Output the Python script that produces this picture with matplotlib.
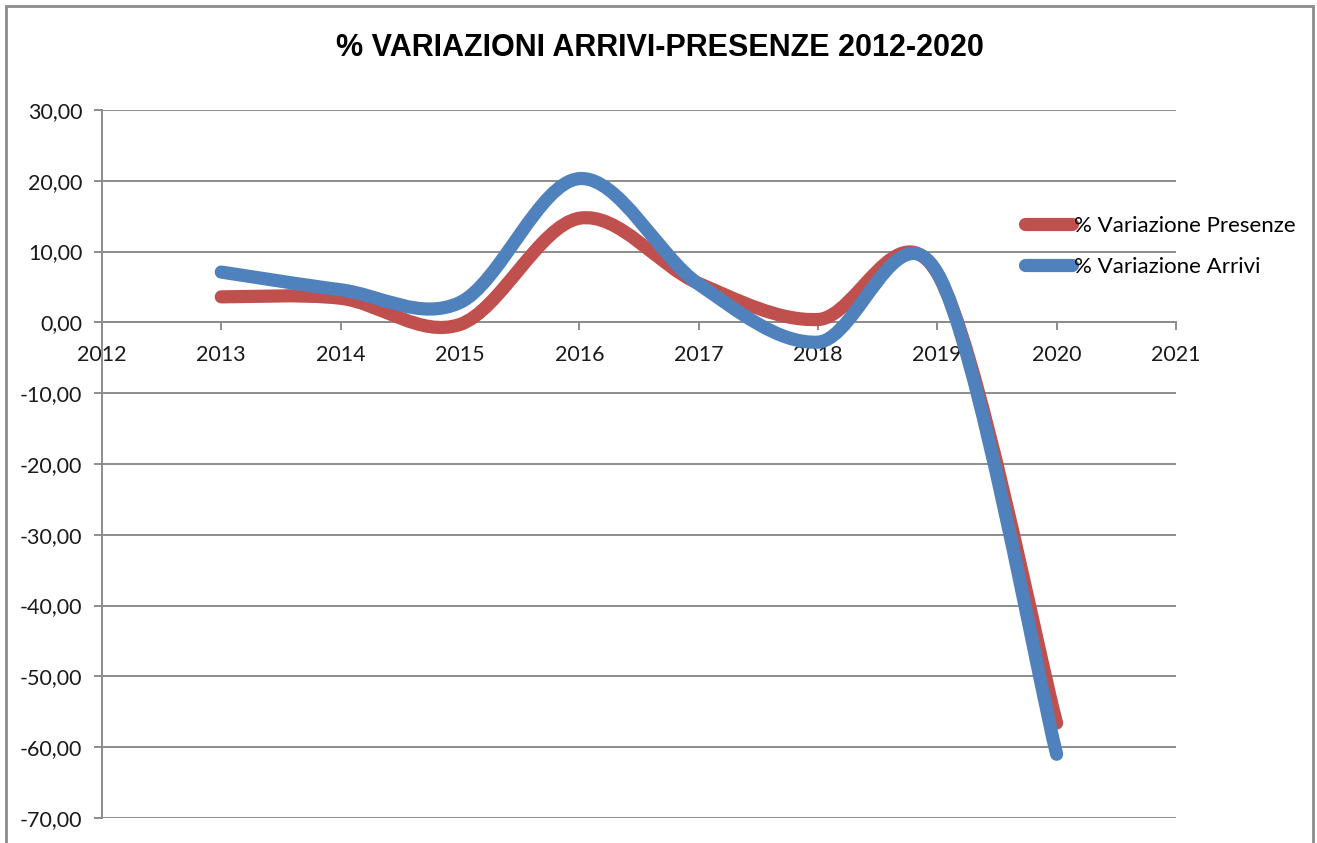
import matplotlib
matplotlib.use('Agg')
import matplotlib.pyplot as plt
from matplotlib.path import Path
from matplotlib.patches import PathPatch, Rectangle
from matplotlib.lines import Line2D
import numpy as np

years = [2013, 2014, 2015, 2016, 2017, 2018, 2019, 2020]
presenze = [3.6, 3.4, -0.3, 14.7, 5.5, 0.4, 6.9, -56.6]
arrivi = [7.1, 4.6, 2.8, 20.3, 5.4, -2.8, 7.0, -61.0]
x_ticks = list(range(2012, 2022))
y_ticks = list(range(-70, 31, 10))

red = '#C0504D'
blue = '#4F81BD'
grid_col = '#8C8C8C'
label_font = ['Lato', 'DejaVu Sans']


def smooth_path(x, y):
    # Excel-style smoothed line: cubic Bezier, control points at 1/6 of neighbour difference
    pts = np.column_stack([x, y]).astype(float)
    n = len(pts)
    verts = [pts[0]]
    codes = [Path.MOVETO]
    for i in range(n - 1):
        p0 = pts[i - 1] if i > 0 else pts[i]
        p1 = pts[i]
        p2 = pts[i + 1]
        p3 = pts[i + 2] if i + 2 < n else pts[i + 1]
        verts += [p1 + (p2 - p0) / 6, p2 - (p3 - p1) / 6, p2]
        codes += [Path.CURVE4] * 3
    return Path(verts, codes)


fig = plt.figure(figsize=(13.17, 8.43), dpi=100)
ax = fig.add_axes([0.0774, 0.0297, 0.8155, 0.8399])

for yv, col in [(presenze, red), (arrivi, blue)]:
    patch = PathPatch(smooth_path(years, yv), fill=False, edgecolor=col, lw=9.5,
                      capstyle='round', joinstyle='round', zorder=3)
    ax.add_patch(patch)

ax.set_xlim(2012, 2021)
ax.set_ylim(-70, 30)
ax.set_xticks(x_ticks)
ax.set_yticks(y_ticks)
ax.set_yticklabels([f'{v:.2f}'.replace('.', ',') for v in y_ticks])
ax.yaxis.grid(True, color=grid_col, lw=1.4)
ax.set_axisbelow(True)

for s in ['top', 'right']:
    ax.spines[s].set_visible(False)
ax.spines['left'].set_color(grid_col)
ax.spines['left'].set_linewidth(1.4)
ax.spines['bottom'].set_position(('data', 0))
ax.spines['bottom'].set_color(grid_col)
ax.spines['bottom'].set_linewidth(1.4)

ax.tick_params(axis='x', direction='out', length=6, width=1.4, color=grid_col, pad=10,
               labelsize=15.5, labelcolor='#1a1a1a')
ax.tick_params(axis='y', direction='out', length=6, width=1.4, color=grid_col, pad=8,
               labelsize=15.5, labelcolor='#1a1a1a')
for lab in ax.get_xticklabels() + ax.get_yticklabels():
    lab.set_family(label_font)

handles = [Line2D([], [], color=red, lw=9.5, solid_capstyle='round'),
           Line2D([], [], color=blue, lw=9.5, solid_capstyle='round')]
fig.legend(handles, ['% Variazione Presenze', '% Variazione Arrivi'],
           loc='upper left', bbox_to_anchor=(0.770, 0.757), frameon=False,
           prop={'family': label_font, 'size': 16}, handlelength=2.1,
           handletextpad=0.1, labelspacing=0.95, borderpad=0)

fig.text(0.501, 0.943, '% VARIAZIONI ARRIVI-PRESENZE 2012-2020', ha='center', va='center',
         fontsize=22, fontweight='bold', family=['Liberation Sans', 'DejaVu Sans'])

# chart frame
fig.patches.append(Rectangle((0.0045, -0.05), 0.9925, 1.043, transform=fig.transFigure,
                             fill=False, edgecolor='#8C8C8C', lw=2))

fig.savefig('out.png', dpi=100)
